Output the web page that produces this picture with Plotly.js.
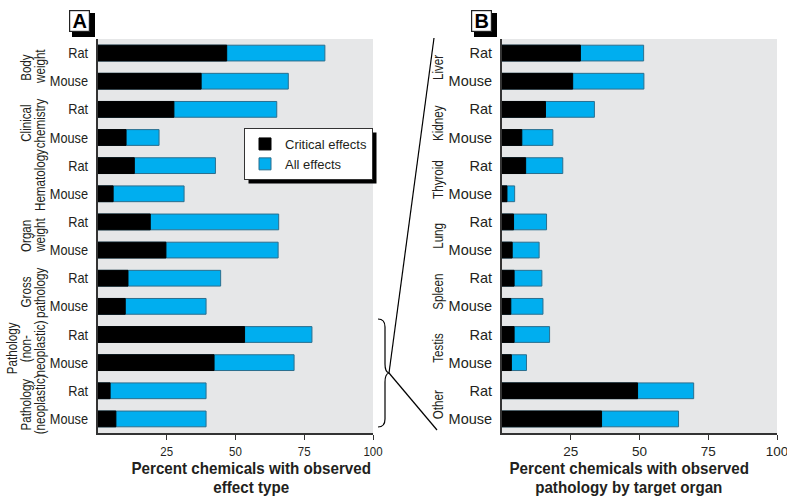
<!DOCTYPE html>
<html>
<head>
<meta charset="utf-8">
<script src="https://cdn.plot.ly/plotly-3.0.1.min.js"></script>
<style>html,body{margin:0;padding:0;background:#fff;}#chart{width:787px;height:501px;}</style>
</head>
<body>
<div id="chart"></div>
<script>
// ---- data ----
var speciesRows = ["Rat","Mouse","Rat","Mouse","Rat","Mouse","Rat","Mouse","Rat","Mouse","Rat","Mouse","Rat","Mouse"];
var groupsA = [["Body","weight"],["Clinical","chemistry"],["Hematology"],["Organ","weight"],["Gross","pathology"],["Pathology","(non-","neoplastic)"],["Pathology","(neoplastic)"]];
var criticalA = [46.8,37.5,27.6,10.2,13.2,5.5,19.0,24.7,10.9,9.9,53.3,42.2,4.4,6.5];
var allA      = [82.5,69.2,65.0,22.2,42.7,31.3,65.7,65.5,44.6,39.3,77.8,71.3,39.3,39.3];
var groupsB = ["Liver","Kidney","Thyroid","Lung","Spleen","Testis","Other"];
var criticalB = [28.5,25.7,15.8,7.2,8.6,1.8,4.2,3.7,4.4,3.2,4.4,3.4,49.3,36.2];
var allB      = [51.5,51.6,33.6,18.5,22.1,4.6,16.2,13.5,14.5,14.9,17.3,8.9,69.7,64.2];
var xTicks = [25,50,75,100];
var seriesNames = ["Critical effects","All effects"];
var titleA = ["Percent chemicals with observed","effect type"];
var titleB = ["Percent chemicals with observed","pathology by target organ"];

// ---- helpers ----
var W = 787, H = 501;
function px(x){return x/W;}
function py(y){return 1 - y/H;}
var FONT = "'Liberation Sans',Arial,sans-serif";
var BLUE = "#00aeef", BLACK = "#000000", TXT = "#231f20";

function rowKeys(prefix){
  var keys = [];
  for (var i=0;i<speciesRows.length;i++){ keys.push(prefix + Math.floor(i/2) + "_" + speciesRows[i]); }
  return keys;
}
var rowsA = rowKeys("A");
var rowsB = rowKeys("B");

var traces = [
  {type:"bar", orientation:"h", x:allA, y:rowsA, xaxis:"x", yaxis:"y", name:seriesNames[1], legendrank:2,
   marker:{color:BLUE, line:{color:"#2b6f8e", width:1}}, width:0.56, hoverinfo:"x"},
  {type:"bar", orientation:"h", x:criticalA, y:rowsA, xaxis:"x", yaxis:"y", name:seriesNames[0], legendrank:1,
   marker:{color:BLACK, line:{color:BLACK, width:1}}, width:0.56, hoverinfo:"x"},
  {type:"bar", orientation:"h", x:allB, y:rowsB, xaxis:"x2", yaxis:"y2", name:seriesNames[1], showlegend:false,
   marker:{color:BLUE, line:{color:"#2b6f8e", width:1}}, width:0.56, hoverinfo:"x"},
  {type:"bar", orientation:"h", x:criticalB, y:rowsB, xaxis:"x2", yaxis:"y2", name:seriesNames[0], showlegend:false,
   marker:{color:BLACK, line:{color:BLACK, width:1}}, width:0.56, hoverinfo:"x"}
];

var yDomain = [py(433), py(39)];
function xAxis(domain){
  return {domain:domain, range:[0,100], tickvals:xTicks, ticktext:xTicks.map(String),
    ticks:"outside", ticklen:5, tickwidth:1, tickcolor:"#333", showline:true, linecolor:"#333", linewidth:1.5,
    showgrid:false, zeroline:false, tickfont:{family:FONT, size:13.5, color:TXT}, fixedrange:true,
    ticklabeloverflow:"allow"};
}
function yAxis(rows, anchor){
  return {domain:yDomain, anchor:anchor, type:"category", categoryorder:"array", categoryarray:rows,
    autorange:false, range:[rows.length-0.5,-0.5], tickvals:rows, ticktext:speciesRows,
    ticks:"", showline:true, linecolor:"#333", linewidth:2, showgrid:false, zeroline:false,
    tickfont:{family:FONT, size:14.5, color:TXT}, ticklabelstandoff:5, fixedrange:true};
}

var annotations = [];
var annSqueeze = [];
var shapes = [];
function addAnn(a, f){ annotations.push(a); annSqueeze.push(f); }

function panelLabel(letter, x0, y0, x1, y1){
  shapes.push({type:"rect", xref:"paper", yref:"paper", x0:px(x0+4), x1:px(x1+4), y0:py(y0+4), y1:py(y1+4),
    fillcolor:"#000", line:{width:0}, layer:"above"});
  addAnn({xref:"paper", yref:"paper", x:px((x0+x1)/2), y:py((y0+y1)/2), xanchor:"center", yanchor:"middle",
    text:"<b>"+letter+"</b>", showarrow:false, bgcolor:"#fff", bordercolor:"#222", borderwidth:1.2,
    width:x1-x0-4, height:y1-y0-4, borderpad:0, font:{family:FONT, size:20, color:"#000"}}, 1);
}
panelLabel("A", 68, 9, 91, 33);
panelLabel("B", 470, 9, 493, 33);

groupsA.forEach(function(lines, i){
  var n = lines.length;
  lines.forEach(function(t, j){
    addAnn({xref:"paper", yref:"y", x:px(40 - (n-1-j)*14), y:2*i+0.5, text:t, textangle:-90,
      showarrow:false, xanchor:"center", yanchor:"middle", font:{family:FONT, size:14.5, color:TXT}}, 0.8);
  });
});
groupsB.forEach(function(t, i){
  addAnn({xref:"paper", yref:"y2", x:px(438), y:2*i+0.5, text:t, textangle:-90,
    showarrow:false, xanchor:"center", yanchor:"middle", font:{family:FONT, size:14.5, color:TXT}}, 0.8);
});

// axis titles (two lines each, tight leading like the original)
function axisTitle(lines, cx){
  lines.forEach(function(t, j){
    addAnn({xref:"paper", yref:"paper", x:px(cx), y:py(468 + j*19), text:t, showarrow:false,
      xanchor:"center", yanchor:"middle", font:{family:FONT, size:16.5, color:TXT, weight:"bold"}}, 0.92);
  });
}
axisTitle(titleA, 251);
axisTitle(titleB, 629);

// legend shadow (follows the drawn legend box)
var shadowIdx = shapes.length;
shapes.push({type:"rect", xref:"paper", yref:"paper", x0:px(248), x1:px(370), y0:py(134), y1:py(176),
  fillcolor:"#000", line:{width:0}, layer:"above"});

function P(x,y){return px(x).toFixed(5)+","+py(y).toFixed(5);}
var brace = "M"+P(378,319)+" Q"+P(385,319)+" "+P(385,327)+" L"+P(385,364)+" Q"+P(385,372)+" "+P(389,373)+
  " Q"+P(385,374)+" "+P(385,382)+" L"+P(385,419)+" Q"+P(385,427)+" "+P(378,427);
shapes.push({type:"path", xref:"paper", yref:"paper", path:brace, line:{color:"#000", width:1.2}, layer:"above"});
shapes.push({type:"line", xref:"paper", yref:"paper", x0:px(389), y0:py(373), x1:px(434), y1:py(38), line:{color:"#000", width:1.2}});
shapes.push({type:"line", xref:"paper", yref:"paper", x0:px(389), y0:py(373), x1:px(437), y1:py(430), line:{color:"#000", width:1.2}});

var layout = {
  width:W, height:H, margin:{l:0, r:0, t:0, b:0}, paper_bgcolor:"#fff", plot_bgcolor:"#e6e7e8",
  barmode:"overlay",
  font:{family:FONT, color:TXT},
  xaxis:xAxis([px(98), px(373)]),
  xaxis2:xAxis([px(502), px(777)]),
  yaxis:yAxis(rowsA, "x"),
  yaxis2:yAxis(rowsB, "x2"),
  showlegend:true,
  legend:{x:px(244), y:py(128), xanchor:"left", yanchor:"top", bgcolor:"#fff", bordercolor:"#333", borderwidth:1,
    font:{family:FONT, size:13, color:TXT}, traceorder:"normal", tracegroupgap:0, itemwidth:30},
  annotations:annotations, shapes:shapes
};

// condense text (the original uses a condensed face that is not installed)
function squeeze(el, f){
  if (f >= 1 || el.hasAttribute("textLength")) return;
  var L = el.getComputedTextLength();
  if (L > 0){ el.setAttribute("textLength", (L*f).toFixed(2)); el.setAttribute("lengthAdjust","spacingAndGlyphs"); }
}
function condenseAll(gd){
  gd.querySelectorAll(".ytick text").forEach(function(t){ squeeze(t, 0.88); });
  gd.querySelectorAll(".xtick text").forEach(function(t){ squeeze(t, 0.85); });
  gd.querySelectorAll(".annotation").forEach(function(g){
    var i = +g.getAttribute("data-index");
    var f = annSqueeze[i];
    g.querySelectorAll("text").forEach(function(t){ squeeze(t, f); });
  });
}
Plotly.newPlot("chart", traces, layout, {displayModeBar:false, staticPlot:true}).then(function(gd){
  var bg = gd.querySelector(".legend .bg");
  if (!bg){ condenseAll(gd); return; }
  var r = bg.getBoundingClientRect(), c = gd.getBoundingClientRect();
  var x0 = r.left - c.left, y0 = r.top - c.top, x1 = r.right - c.left, y1 = r.bottom - c.top;
  var upd = {};
  upd["shapes["+shadowIdx+"].x0"] = px(x0+4); upd["shapes["+shadowIdx+"].x1"] = px(x1+4);
  upd["shapes["+shadowIdx+"].y0"] = py(y0+4); upd["shapes["+shadowIdx+"].y1"] = py(y1+4);
  return Plotly.relayout(gd, upd).then(function(){ condenseAll(gd); });
});
</script>
</body>
</html>
